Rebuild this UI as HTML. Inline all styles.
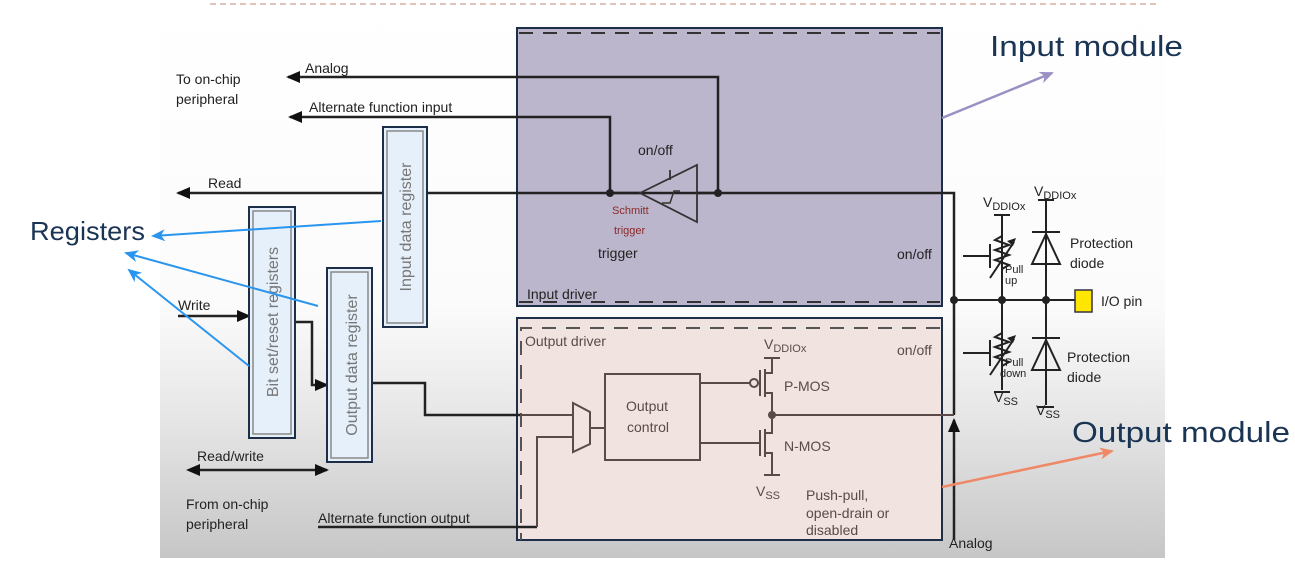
<!DOCTYPE html>
<html><head><meta charset="utf-8"><style>
html,body{margin:0;padding:0;background:#fff;}
svg{display:block;font-family:"Liberation Sans",sans-serif;}
</style></head><body>
<svg width="1295" height="573" viewBox="0 0 1295 573" xmlns="http://www.w3.org/2000/svg">
<defs>
<linearGradient id="bg" x1="0" y1="0" x2="0" y2="1">
<stop offset="0" stop-color="#ffffff"/><stop offset="0.55" stop-color="#fbfbfb"/><stop offset="0.75" stop-color="#e6e6e6"/><stop offset="1" stop-color="#c6c6c6"/>
</linearGradient>
<marker id="ab" markerWidth="14" markerHeight="12" refX="12" refY="6" orient="auto" markerUnits="userSpaceOnUse"><path d="M0,0 L14,6 L0,12 z" fill="#111"/></marker>
<marker id="abl" markerWidth="14" markerHeight="12" refX="12" refY="6" orient="auto" markerUnits="userSpaceOnUse"><path d="M0,0 L14,6 L0,12 L4,6 z" fill="#2a95ee"/></marker>
<marker id="apu" markerWidth="14" markerHeight="12" refX="12" refY="6" orient="auto" markerUnits="userSpaceOnUse"><path d="M0,0 L14,6 L0,12 L4,6 z" fill="#9a90c4"/></marker>
<marker id="aor" markerWidth="14" markerHeight="12" refX="12" refY="6" orient="auto" markerUnits="userSpaceOnUse"><path d="M0,0 L14,6 L0,12 L4,6 z" fill="#ee8866"/></marker>
</defs>
<rect x="160" y="0" width="1005" height="558" fill="url(#bg)"/>
<line x1="210" y1="4" x2="1160" y2="4" stroke="#c08878" stroke-dasharray="6,4"/>

<rect x="517" y="28" width="425" height="278" fill="#bcb6cd" stroke="#1c2e48" stroke-width="2"/>
<line x1="519" y1="33" x2="940" y2="33" stroke="#333" stroke-width="2" stroke-dasharray="14,10"/>
<line x1="519" y1="302" x2="940" y2="302" stroke="#333" stroke-width="2" stroke-dasharray="14,10"/>
<rect x="517" y="318" width="425" height="222" fill="#f1e3df" stroke="#1c2e48" stroke-width="2"/>
<path d="M940,328 H521 V540" fill="none" stroke="#555" stroke-width="2" stroke-dasharray="14,10"/>

<g stroke="#222" stroke-width="2.5" fill="none">
<path d="M718,193 V77 H288" marker-end="url(#ab)"/>
<path d="M610,193 V117 H290" marker-end="url(#ab)"/>
<path d="M954,300 V193 H178" marker-end="url(#ab)"/>
<path d="M640,193 H610"/>
<path d="M178,316 H249" marker-end="url(#ab)"/>
<path d="M295,322 H312 V385 H327" marker-end="url(#ab)"/>
<path d="M372,383 H425 V415 H520"/>
<path d="M954,300 V415"/>
<path d="M954,540 V420" marker-end="url(#ab)"/>
<path d="M318,527 H537"/>
<path d="M200,470 H327" marker-end="url(#ab)"/>
</g>
<path d="M186,470 l14,-6 v12 z" fill="#111"/>
<circle cx="610" cy="193" r="4" fill="#222"/><circle cx="718" cy="193" r="4" fill="#222"/>
<path d="M640,193 L697,165 V222 Z" fill="none" stroke="#333" stroke-width="1.8"/>
<path d="M670,180 V170" stroke="#333" stroke-width="1.8"/>
<path d="M662,203 h8 l4,-12 h6" fill="none" stroke="#333" stroke-width="1.5"/>
<line x1="697" y1="193" x2="718" y2="193" stroke="#222" stroke-width="2.5"/>

<g stroke="#5a4a48" stroke-width="2" fill="none">
<path d="M520,415 H573"/>
<path d="M537,527 V437 H573"/>
<path d="M573,403 L590,412 V444 L573,452 Z"/>
<path d="M590,428 H605"/>
<rect x="605" y="374" width="95" height="86"/>
<path d="M700,383 H750"/><circle cx="754" cy="383" r="4"/>
<path d="M760,370 V396 M765,369 V397 M765,373 H772 V358 M765,393 H772 V415 M764,358 H780"/>
<path d="M700,443 H760 M760,430 V456 M765,429 V457 M765,433 H772 V415 M765,453 H772 V475 M764,475 H780"/>
<path d="M772,415 H954"/>
</g>
<circle cx="772" cy="415" r="4" fill="#5a4a48"/>

<g stroke="#1c2e48" stroke-width="2" fill="#e6f0fa">
<rect x="383" y="127" width="44" height="200"/>
<rect x="249" y="207" width="46" height="231"/>
<rect x="327" y="268" width="45" height="194"/>
</g>
<g stroke="#888" stroke-width="1.5" fill="none">
<rect x="387" y="131" width="36" height="192"/>
<rect x="253" y="211" width="38" height="223"/>
<rect x="331" y="272" width="37" height="186"/>
</g>
<g font-size="16" fill="#777">
<text transform="translate(411,227) rotate(-90)" text-anchor="middle">Input data register</text>
<text transform="translate(278,322) rotate(-90)" text-anchor="middle">Bit set/reset registers</text>
<text transform="translate(357,365) rotate(-90)" text-anchor="middle">Output data register</text>
</g>

<g stroke="#222" stroke-width="2" fill="none">
<path d="M954,300 H1075"/>
<path d="M1002,215 V300 V390"/><path d="M994,215 H1010 M994,392 H1010"/>
<path d="M1046,200 V300 V405"/><path d="M1038,200 H1054 M1038,407 H1054"/>
<path d="M1032,232 H1060 M1046,234 L1032,264 H1060 Z"/>
<path d="M1032,338 H1060 M1046,340 L1032,370 H1060 Z"/>
<path d="M963,256 H990 M963,353 H990"/>
<path d="M990,244 V268 M990,340 V366"/>
<path d="M1002,236 l-7,4 l14,5 l-14,5 l14,5 l-14,5 l14,5 l-7,4"/>
<path d="M1002,333 l-7,4 l14,5 l-14,5 l14,5 l-14,5 l14,5 l-7,4"/>
<path d="M990,278 L1014,242 M990,375 L1014,339"/>
</g>
<path d="M1016,238 l-9,3 l6,5 z M1016,335 l-9,3 l6,5 z" fill="#222"/>
<circle cx="954" cy="300" r="4" fill="#222"/><circle cx="1002" cy="300" r="4" fill="#222"/><circle cx="1046" cy="300" r="4" fill="#222"/>
<rect x="1075" y="290" width="17" height="22" fill="#ffe600" stroke="#334" stroke-width="1.5"/>

<g font-size="14" fill="#222">
<text x="305" y="73">Analog</text>
<text x="176" y="84">To on-chip</text><text x="176" y="104">peripheral</text>
<text x="309" y="112">Alternate function input</text>
<text x="208" y="188">Read</text>
<text x="638" y="155">on/off</text>
<text x="598" y="258">trigger</text>
<text x="897" y="259">on/off</text>
<text x="527" y="299">Input driver</text>
<text x="178" y="310">Write</text>
<text x="197" y="461">Read/write</text>
<text x="186" y="509">From on-chip</text><text x="186" y="529">peripheral</text>
<text x="318" y="523">Alternate function output</text>
<text x="949" y="548">Analog</text>
</g>
<g font-size="14" fill="#5a4a48">
<text x="525" y="346">Output driver</text>
<text x="897" y="355">on/off</text>
<text x="626" y="411">Output</text><text x="627" y="432">control</text>
<text x="784" y="391">P-MOS</text><text x="784" y="451">N-MOS</text>
<text x="764" y="349">V<tspan font-size="11" dy="3">DDIOx</tspan></text>
<text x="756" y="496">V<tspan font-size="11" dy="3">SS</tspan></text>
<text x="806" y="500">Push-pull,</text><text x="806" y="518">open-drain or</text><text x="806" y="535">disabled</text>
</g>
<g font-size="11" fill="#8a2a2a"><text x="612" y="214">Schmitt</text><text x="614" y="234">trigger</text></g>
<g font-size="14" fill="#222">
<text x="983" y="207">V<tspan font-size="11" dy="3">DDIOx</tspan></text>
<text x="1034" y="196">V<tspan font-size="11" dy="3">DDIOx</tspan></text>
<text x="1070" y="248">Protection</text><text x="1070" y="268">diode</text>
<text x="1067" y="362">Protection</text><text x="1067" y="382">diode</text>
<text x="1101" y="306">I/O pin</text>
<text x="994" y="402">V<tspan font-size="11" dy="3">SS</tspan></text>
<text x="1036" y="415">V<tspan font-size="11" dy="3">SS</tspan></text>
</g>
<g font-size="11" fill="#222"><text x="1005" y="273">Pull</text><text x="1005" y="284">up</text><text x="1005" y="366">Pull</text><text x="1000" y="377">down</text></g>

<g fill="#1a3454">
<text x="990" y="56" font-size="29" textLength="193" lengthAdjust="spacingAndGlyphs">Input module</text>
<text x="1072" y="442" font-size="29" textLength="218" lengthAdjust="spacingAndGlyphs">Output module</text>
<text x="30" y="240" font-size="26" textLength="115" lengthAdjust="spacingAndGlyphs">Registers</text>
</g>
<line x1="942" y1="118" x2="1052" y2="73" stroke="#9a90c4" stroke-width="2.5" marker-end="url(#apu)"/>
<line x1="942" y1="487" x2="1112" y2="451" stroke="#ee8866" stroke-width="2.5" marker-end="url(#aor)"/>
<g stroke="#2a95ee" stroke-width="2">
<line x1="381" y1="221" x2="153" y2="236" marker-end="url(#abl)"/>
<line x1="318" y1="306" x2="126" y2="253" marker-end="url(#abl)"/>
<line x1="249" y1="366" x2="129" y2="270" marker-end="url(#abl)"/>
</g>
</svg>
</body></html>
